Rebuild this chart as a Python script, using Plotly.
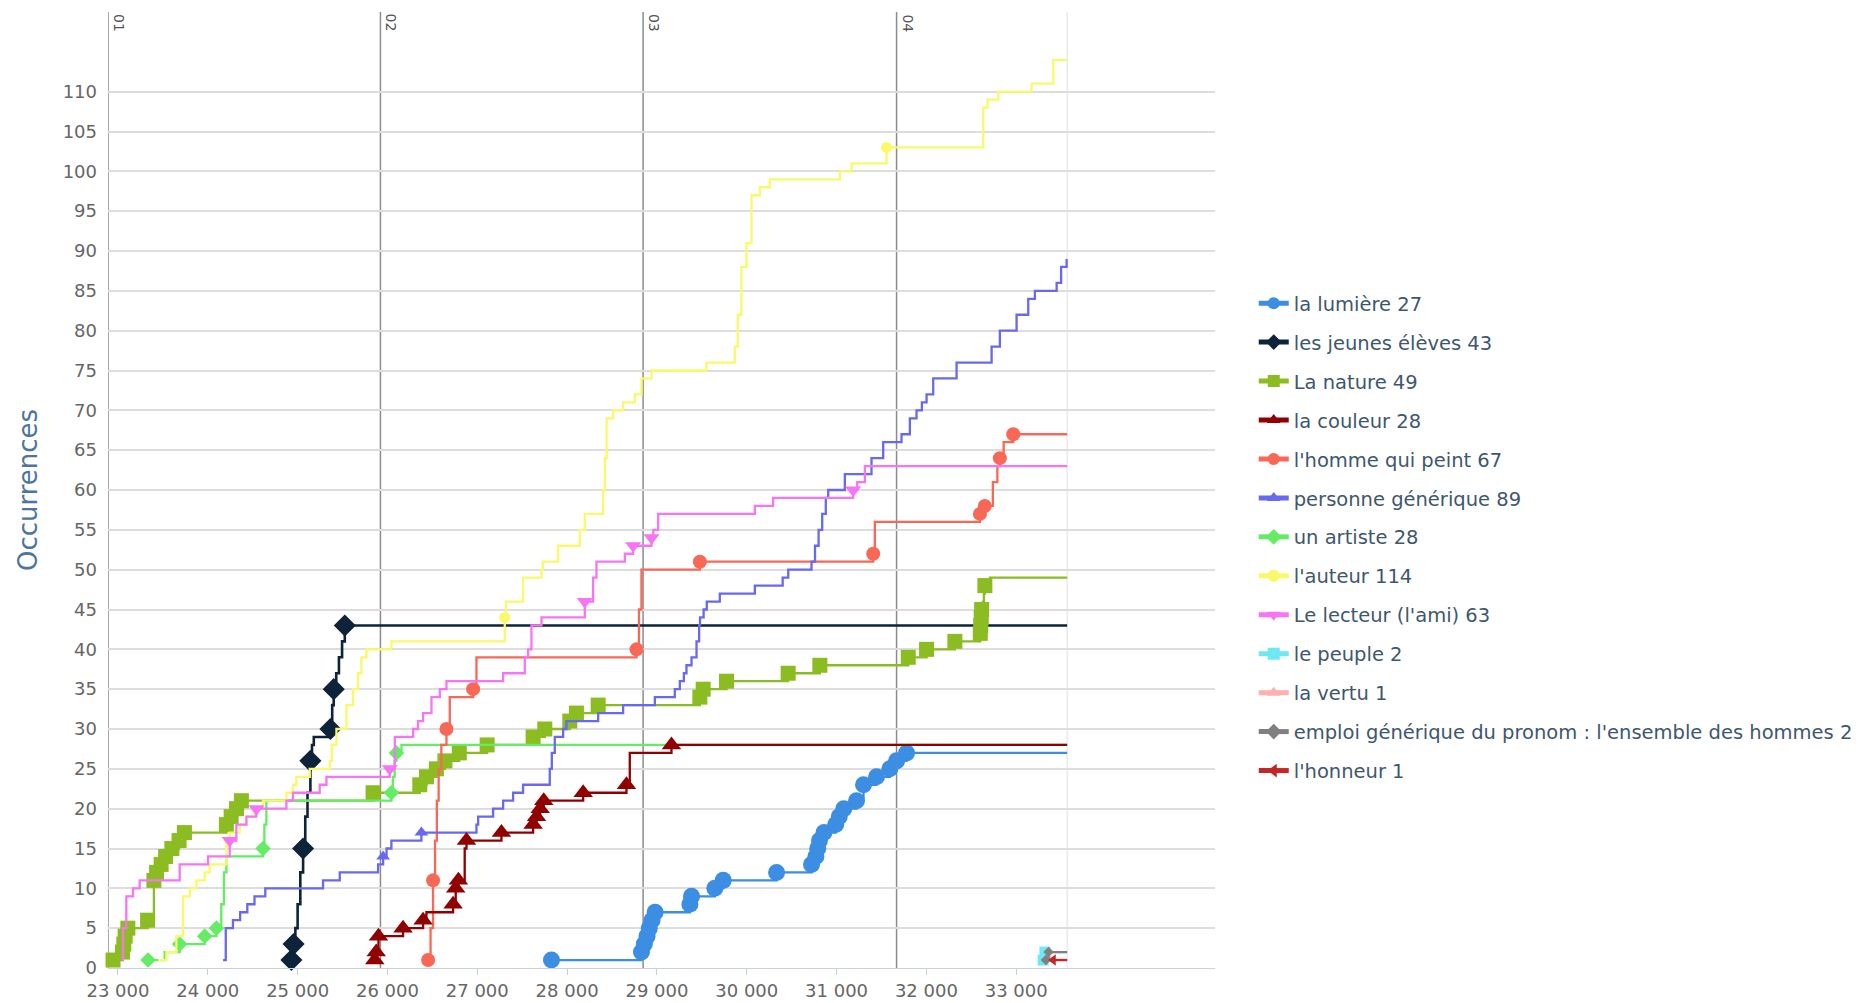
import plotly.graph_objects as go

# ---------------- data ----------------
X_TICKS = [23000, 24000, 25000, 26000, 27000, 28000, 29000, 30000, 31000, 32000, 33000]
X_TICK_LABELS = ["23 000", "24 000", "25 000", "26 000", "27 000", "28 000", "29 000",
                 "30 000", "31 000", "32 000", "33 000"]
Y_TICKS = [0, 5, 10, 15, 20, 25, 30, 35, 40, 45, 50, 55, 60, 65, 70, 75, 80, 85, 90, 95, 100, 105, 110]

CHAPTER_X = [22889, 25922, 28846, 31668]
CHAPTER_LABELS = ["01", "02", "03", "04"]
TEXT_END_X = 33567

LUMIERE_X = [27826, 28828, 28860, 28890, 28915, 28945, 28980, 29367, 29385, 29645, 29738, 30332,
             30721, 30770, 30790, 30810, 30860, 30990, 31030, 31080, 31222, 31300, 31445, 31593,
             31668, 31779, 33567]
LUMIERE_Y = [1, 2, 3, 4, 5, 6, 7, 8, 9, 10, 11, 12, 13, 14, 15, 16, 17, 18, 19, 20, 21, 23, 24, 25,
             26, 27, 27]
LUMIERE_MK = list(range(26))

JEUNES_X = [24931, 24945, 24955, 24975, 25000, 25030, 25061, 25085, 25110, 25142, 25160, 25180,
            25365, 25385, 25402, 25430, 25460, 25495, 25525, 33567]
JEUNES_Y = [1, 2, 3, 5, 8, 12, 15, 19, 22, 26, 28, 29, 30, 33, 35, 37, 39, 41, 43, 43]
JEUNES_MK = [0, 2, 6, 9, 12, 14, 18]

NATURE_X = [22945, 23050, 23065, 23080, 23110, 23330, 23400, 23430, 23480, 23530, 23600, 23680,
            23740, 24207, 24260, 24320, 24374, 25840, 26360, 26435, 26545, 26640, 26800, 27110,
            27622, 27752, 28030, 28104, 28346, 29478, 29515, 29775, 30461, 30814, 31798, 32002,
            32317, 32600, 32605, 32610, 32615, 32630, 32640, 32651, 32707, 33567]
NATURE_Y = [1, 2, 3, 4, 5, 6, 11, 12, 13, 14, 15, 16, 17, 18, 19, 20, 21, 22, 23, 24, 25, 26, 27,
            28, 29, 30, 31, 32, 33, 34, 35, 36, 37, 38, 39, 40, 41, 42, 43, 44, 45, 46, 47, 48, 49, 49]
NATURE_MK = [i for i in range(45) if i not in (41, 42, 44)]

COULEUR_X = [25859, 25875, 25900, 26174, 26397, 26434, 26731, 26760, 26790, 26860, 26880, 27269,
             27622, 27660, 27700, 27740, 28179, 28661, 28698, 29162, 33567]
COULEUR_Y = [1, 2, 4, 5, 6, 7, 8, 10, 11, 15, 16, 17, 18, 19, 20, 21, 22, 23, 27, 28, 28]
COULEUR_MK = [0, 1, 2, 3, 4, 6, 7, 8, 10, 11, 12, 13, 14, 15, 16, 17, 19]

HOMME_X = [26453, 26480, 26508, 26530, 26550, 26570, 26600, 26657, 26694, 26954, 26991, 28773,
           28800, 28828, 29478, 31408, 31426, 32596, 32650, 32740, 32790, 32818, 32860, 32967, 33567]
HOMME_Y = [1, 5, 11, 16, 21, 25, 28, 30, 34, 35, 39, 40, 45, 50, 51, 52, 56, 57, 58, 61, 63, 64,
           66, 67, 67]
HOMME_MK = [0, 2, 7, 9, 11, 14, 15, 17, 18, 21, 23]

PERSONNE_X = [24170, 24200, 24280, 24360, 24440, 24520, 24640, 25283, 25469, 25896, 25952, 25990,
              26044, 26378, 26991, 27010, 27176, 27288, 27399, 27510, 27807, 27830, 27863, 27956,
              27993, 28346, 28624, 28977, 29199, 29255, 29300, 29329, 29385, 29441, 29470, 29480,
              29520, 29555, 29700, 30090, 30400, 30462, 30721, 30760, 30800, 30840, 30880, 30907,
              31092, 31389, 31519, 31723, 31816, 31890, 31950, 32002, 32076, 32336, 32726, 32818,
              33004, 33134, 33208, 33450, 33500, 33561]
PERSONNE_Y = [1, 5, 6, 7, 8, 9, 10, 11, 12, 13, 14, 15, 16, 17, 18, 19, 20, 21, 22, 23, 25, 27, 29,
              30, 31, 32, 33, 34, 35, 36, 37, 38, 39, 41, 43, 44, 45, 46, 47, 48, 49, 50, 51, 53, 55,
              57, 59, 60, 62, 64, 66, 67, 69, 70, 71, 72, 74, 76, 78, 80, 82, 84, 85, 86, 88, 89]
PERSONNE_MK = [10, 13]

ARTISTE_X = [23335, 23520, 23687, 23966, 24096, 24150, 24180, 24207, 24615, 24630, 24652, 26044,
             26060, 26080, 26100, 26156, 33567]
ARTISTE_Y = [1, 2, 3, 4, 5, 8, 12, 14, 15, 18, 21, 22, 24, 26, 27, 28, 28]
ARTISTE_MK = [0, 2, 3, 4, 8, 11, 14]

AUTEUR_X = [23446, 23539, 23650, 23724, 23799, 23873, 23966, 24021, 24207, 24244, 24355, 24430,
            24522, 24615, 24875, 24949, 24986, 25135, 25358, 25380, 25432, 25543, 25617, 25673,
            25710, 25766, 26044, 27306, 27320, 27510, 27715, 27730, 27900, 28141, 28197, 28401,
            28420, 28440, 28513, 28624, 28754, 28828, 28940, 29552, 29867, 29900, 29940, 29997,
            30053, 30146, 30257, 31037, 31167, 31556, 32633, 32680, 32800, 33171, 33412, 33567]
AUTEUR_Y = [1, 2, 4, 9, 10, 11, 12, 13, 16, 17, 18, 19, 20, 21, 22, 23, 24, 25, 26, 28, 30, 33, 35,
            37, 39, 40, 41, 44, 46, 49, 50, 51, 53, 55, 57, 60, 64, 69, 70, 71, 72, 74, 75, 76, 78,
            82, 88, 91, 97, 98, 99, 100, 101, 103, 108, 109, 110, 111, 114, 114]
AUTEUR_MK = [27, 53]

LECTEUR_X = [23040, 23056, 23093, 23168, 23242, 23687, 24003, 24244, 24318, 24430, 24541, 24875,
             24949, 25246, 25321, 26026, 26082, 26286, 26341, 26397, 26490, 26583, 26657, 27288,
             27529, 27566, 27603, 27715, 28197, 28290, 28327, 28643, 28735, 28940, 28960, 29014,
             30090, 30294, 31185, 31230, 31315, 33567]
LECTEUR_Y = [1, 5, 9, 10, 11, 13, 14, 16, 18, 19, 20, 21, 22, 23, 24, 25, 29, 30, 31, 32, 34, 35,
             36, 37, 39, 40, 43, 44, 46, 49, 51, 52, 53, 54, 55, 57, 58, 59, 60, 61, 63, 63]
LECTEUR_MK = [7, 10, 15, 28, 32, 33, 38]

PEUPLE_X = [33300, 33320, 33567]
PEUPLE_Y = [1, 2, 2]
PEUPLE_MK = [0, 1]

VERTU_X = [33380, 33567]
VERTU_Y = [1, 1]
VERTU_MK = [0]

EMPLOI_X = [33330, 33360, 33567]
EMPLOI_Y = [1, 2, 2]
EMPLOI_MK = [0, 1]

HONNEUR_X = [33412, 33567]
HONNEUR_Y = [1, 1]
HONNEUR_MK = [0]

# ---------------- figure ----------------
FONT = "DejaVu Sans"
series = [
    # name, x, y, marker idx, color, symbol, marker size, line width, draw order
    ("la lumière 27", LUMIERE_X, LUMIERE_Y, LUMIERE_MK, "#3b8ee2", "circle", 17, 2.3, 1),
    ("les jeunes élèves 43", JEUNES_X, JEUNES_Y, JEUNES_MK, "#0d233a", "diamond", 17, 2.6, 2),
    ("La nature 49", NATURE_X, NATURE_Y, NATURE_MK, "#8bbc21", "square", 15, 2.3, 3),
    ("la couleur 28", COULEUR_X, COULEUR_Y, COULEUR_MK, "#910000", "triangle-up", 17, 2.3, 8),
    ("l'homme qui peint 67", HOMME_X, HOMME_Y, HOMME_MK, "#f96757", "circle", 14, 2.3, 5),
    ("personne générique 89", PERSONNE_X, PERSONNE_Y, PERSONNE_MK, "#6868f0", "triangle-up", 12, 2.3, 6),
    ("un artiste 28", ARTISTE_X, ARTISTE_Y, ARTISTE_MK, "#64ec64", "diamond", 12, 2.3, 4),
    ("l'auteur 114", AUTEUR_X, AUTEUR_Y, AUTEUR_MK, "#f9f96a", "circle", 11, 2.3, 7),
    ("Le lecteur (l'ami) 63", LECTEUR_X, LECTEUR_Y, LECTEUR_MK, "#f775f5", "triangle-down", 14, 2.3, 9),
    ("le peuple 2", PEUPLE_X, PEUPLE_Y, PEUPLE_MK, "#6ee8f2", "square", 11, 2.3, 10),
    ("la vertu 1", VERTU_X, VERTU_Y, VERTU_MK, "#ffb0b0", "triangle-up", 8, 2.3, 11),
    ("emploi générique du pronom : l'ensemble des hommes 2", EMPLOI_X, EMPLOI_Y, EMPLOI_MK,
     "#808080", "diamond", 8, 2.3, 12),
    ("l'honneur 1", HONNEUR_X, HONNEUR_Y, HONNEUR_MK, "#c42525", "triangle-left", 10, 2.3, 13),
]

fig = go.Figure()
ordered = sorted(enumerate(series), key=lambda t: t[1][8])
for rank, (name, xs, ys, mk, color, symbol, msize, lw, _) in ordered:
    sizes = [msize if i in mk else 0 for i in range(len(xs))]
    fig.add_trace(go.Scatter(
        x=xs, y=ys, name=name, mode="lines+markers",
        line=dict(color=color, width=lw, shape="hv"),
        marker=dict(symbol=symbol, size=sizes, color=color, opacity=1, line=dict(width=0)),
        legendgroup=name, legendrank=rank + 1, cliponaxis=False,
    ))

# chapter plot lines
for cx, lab in zip(CHAPTER_X, CHAPTER_LABELS):
    fig.add_shape(type="line", xref="x", yref="paper", x0=cx, x1=cx, y0=0, y1=1,
                  line=dict(color="#8c8c8c", width=1.5), layer="below")
    fig.add_annotation(x=cx, y=1, xref="x", yref="paper", text=lab, showarrow=False,
                       textangle=90, xanchor="left", yanchor="top", xshift=1, yshift=0,
                       font=dict(family=FONT, size=14, color="#555555"))
fig.add_shape(type="line", xref="x", yref="paper", x0=TEXT_END_X, x1=TEXT_END_X, y0=0, y1=1,
              line=dict(color="#e4e4e4", width=1.2), layer="below")

# the page body has an 8 px margin, so the figure is 8 px smaller than the window
fig.update_layout(
    width=1853, height=995,
    margin=dict(l=100, r=646, t=4, b=35, autoexpand=False),
    paper_bgcolor="white", plot_bgcolor="white",
    font=dict(family=FONT, size=18, color="#666666"),
    showlegend=True,
    legend=dict(x=1.035, xanchor="left", y=0.7155, yanchor="top",
                font=dict(family=FONT, size=19.5, color="#3e576f"),
                tracegroupgap=10.6, itemsizing="constant", bgcolor="rgba(0,0,0,0)"),
)
fig.update_xaxes(range=[22889, 35213], tickvals=X_TICKS, ticktext=X_TICK_LABELS, automargin=False,
                 showgrid=False, zeroline=False, showline=True, linecolor="#c8d2dc", linewidth=1,
                 ticks="outside", ticklen=6, tickcolor="#c8d2dc",
                 tickfont=dict(family=FONT, size=18, color="#666666"))
fig.update_yaxes(range=[0, 120], tickvals=Y_TICKS, showgrid=True, gridcolor="#dddddd",
                 gridwidth=1.5, zeroline=False, showline=False, ticks="", automargin=False,
                 ticklabelstandoff=10,
                 tickfont=dict(family=FONT, size=18, color="#666666"),
                 title=dict(text="Occurrences", standoff=17,
                            font=dict(family=FONT, size=26, color="#4d759e")))

fig.write_html("out.html")
